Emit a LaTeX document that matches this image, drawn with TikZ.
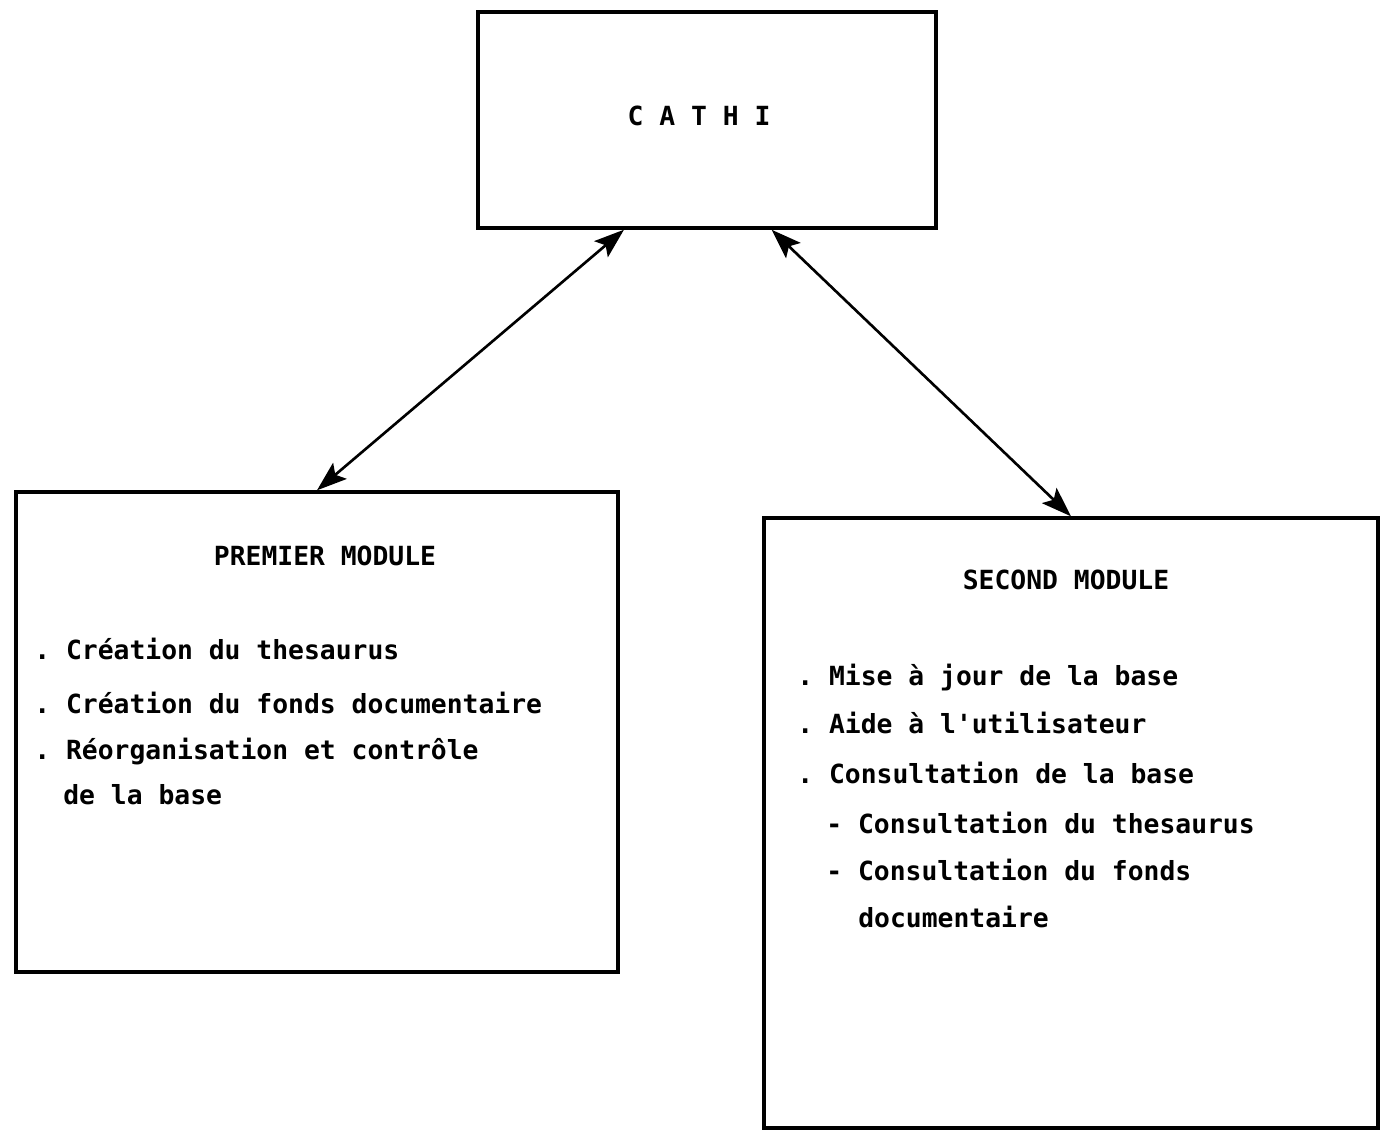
\documentclass[tikz,border=0pt]{standalone}
\usepackage{fontspec}
\setmonofont{DejaVu Sans Mono}
\usetikzlibrary{arrows.meta, positioning, calc}

\begin{document}
\begin{tikzpicture}[
        x=0.02cm, y=-0.02cm,
        box/.style={rectangle, draw=black, line width=2pt, inner sep=0pt},
        label/.style={font=\fontsize{15}{18}\selectfont\ttfamily\bfseries, inner sep=0pt, text height=0.4cm, text depth=0.1cm},
        item/.style={label, anchor=west},
        link/.style={{Stealth[length=0.6cm, width=0.42cm, inset=0.12cm]}-{Stealth[length=0.6cm, width=0.42cm, inset=0.12cm]}, line width=1.5pt}
    ]
        \useasboundingbox (0,0) rectangle (1383,1147);

        % boxes
        \node[box, minimum width=9.16cm, minimum height=4.32cm] (cathi) at (707,120) {};
        \node[box, minimum width=12.04cm, minimum height=9.6cm] (premier) at (317,732) {};
        \node[box, minimum width=12.28cm, minimum height=12.2cm] (second) at (1071,823) {};

        \node[label] (cathiname) at (699,118) {C A T H I};

        % premier module
        \node[label] (ptitle) at (325,558) {PREMIER MODULE};
        \node[item] (p1) at (34,652) {. Création du thesaurus};
        \node[item] (p2) at (34,706) {. Création du fonds documentaire};
        \node[item] (p3) at (34,752) {. Réorganisation et contrôle};
        \node[item] (p4) at (63,797) {de la base};

        % second module
        \node[label] (stitle) at (1066,582) {SECOND MODULE};
        \node[item] (s1) at (797,678) {. Mise à jour de la base};
        \node[item] (s2) at (797,726) {. Aide à l'utilisateur};
        \node[item] (s3) at (797,776) {. Consultation de la base};
        \node[item] (s4) at (826,826) {- Consultation du thesaurus};
        \node[item] (s5) at (826,873) {- Consultation du fonds};
        \node[item] (s6) at (858,920) {documentaire};

        \draw[link] ($(cathi.south west)!0.32!(cathi.south east)$) -- (premier.north);
        \draw[link] ($(cathi.south west)!0.64!(cathi.south east)$) -- (second.north);
    \end{tikzpicture}
\end{document}
